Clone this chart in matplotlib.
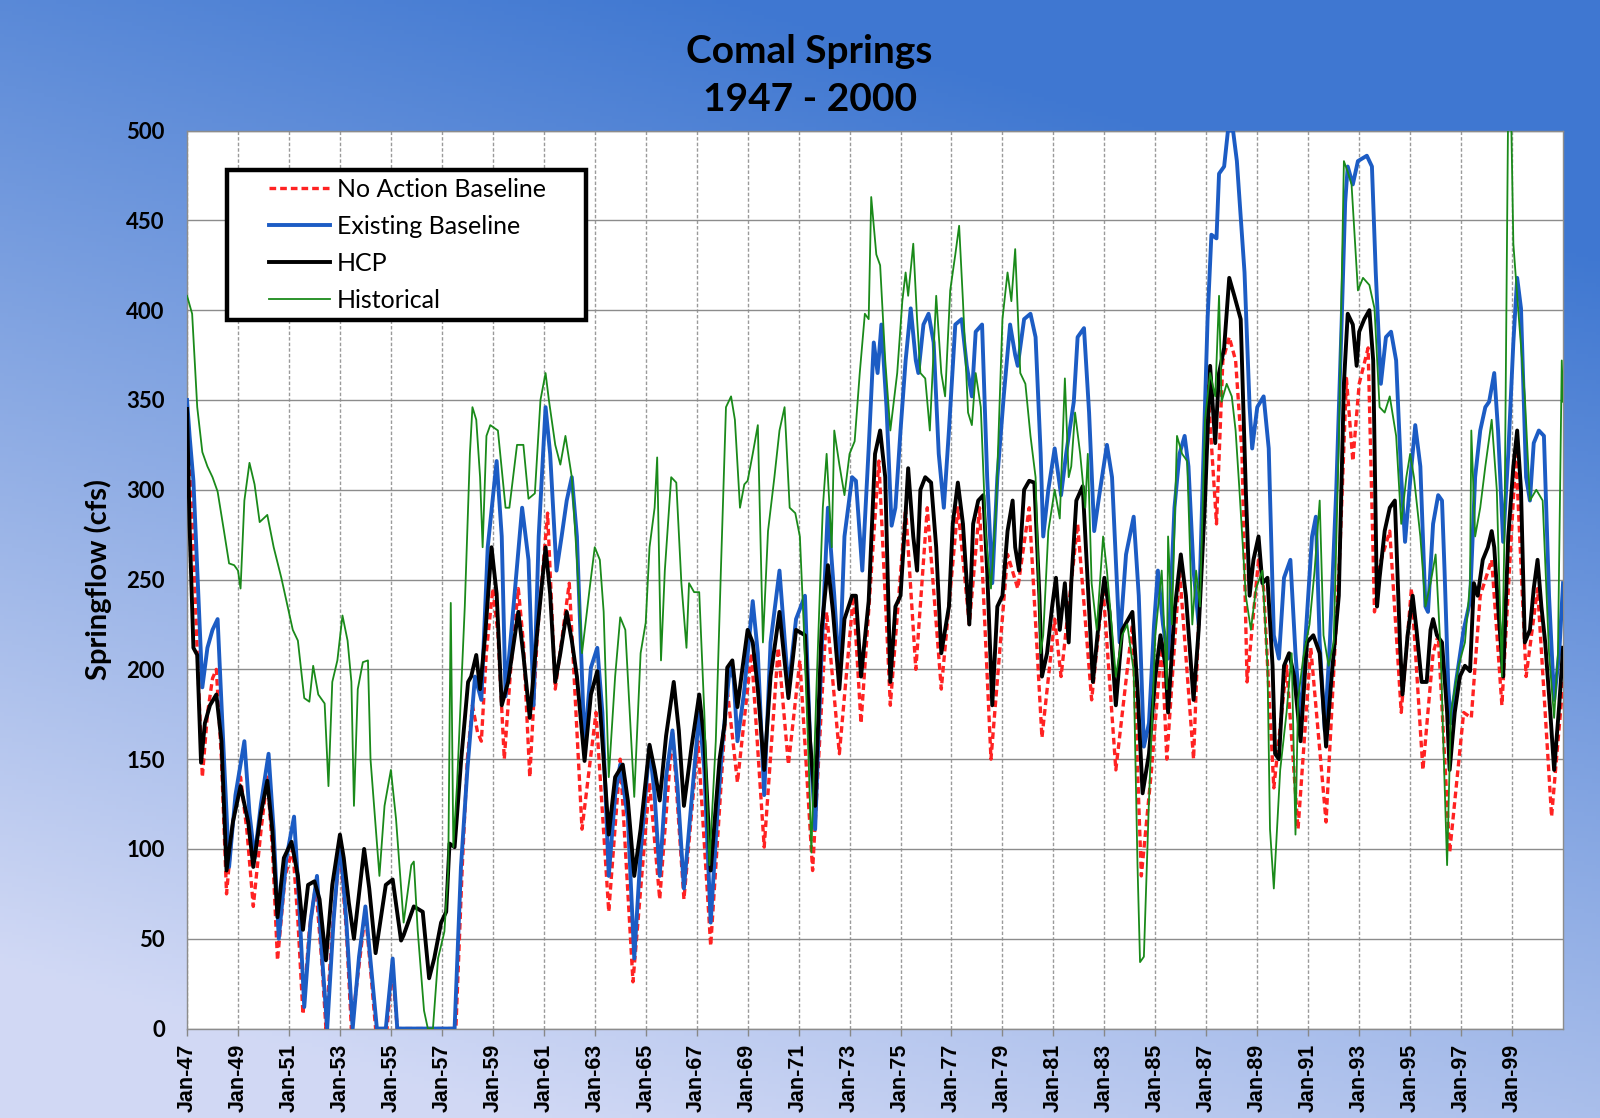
import numpy as np
import matplotlib
matplotlib.use("Agg")
import matplotlib.pyplot as plt
from matplotlib.lines import Line2D
from matplotlib.legend_handler import HandlerLine2D

# ---------------- data (decimal year, cfs) ----------------
noaction_t = [1947.0,1947.2,1947.4,1947.6,1947.8,1948.0,1948.15,1948.35,1948.55,1948.8,1949.1,1949.35,1949.6,1949.9,
              1950.15,1950.35,1950.55,1950.85,1951.15,1951.35,1951.55,1951.8,1952.05,1952.3,1952.45,1952.7,1953.0,1953.25,
              1953.45,1953.75,1954.0,1954.25,1954.4,1954.85,1955.05,1955.25,1957.55,1957.8,1958.0,1958.2,1958.4,1958.55,
              1958.75,1959.0,1959.2,1959.45,1959.7,1960.0,1960.2,1960.45,1960.75,1961.15,1961.45,1962.0,1962.5,1963.05,
              1963.55,1964.0,1964.5,1965.15,1965.55,1966.05,1966.5,1967.05,1967.55,1968.2,1968.6,1969.15,1969.65,1970.2,
              1970.6,1971.05,1971.55,1972.1,1972.6,1973.15,1973.45,1974.15,1974.6,1975.2,1975.6,1976.05,1976.6,1977.25,
              1977.7,1978.1,1978.55,1979.2,1979.6,1980.05,1980.55,1981.05,1981.3,1981.95,1982.5,1982.95,1983.45,1984.1,
              1984.45,1984.85,1985.25,1985.45,1985.95,1986.5,1987.05,1987.4,1987.65,1987.9,1988.15,1988.4,1988.6,1989.05,
              1989.25,1989.65,1990.15,1990.6,1991.1,1991.7,1992.25,1992.5,1992.75,1993.0,1993.35,1993.6,1993.8,1994.2,
              1994.65,1995.05,1995.5,1995.9,1996.1,1996.55,1997.1,1997.4,1997.75,1998.2,1998.6,1999.15,1999.55,2000.0,
              2000.55,2001.0]
noaction_v = [335,290,210,140,175,195,200,150,75,115,140,110,68,110,
              140,100,38,85,100,60,8,55,80,35,0,55,100,55,
              0,35,65,25,0,0,35,0,0,90,150,180,165,160,
              210,245,220,150,200,245,215,140,220,287,189,248,111,176,
              65,150,26,137,72,166,72,160,46,189,137,209,101,212,
              147,205,88,232,153,241,170,316,180,290,200,290,189,290,
              225,290,150,264,245,290,162,228,196,281,183,245,144,225,
              85,144,215,150,255,150,359,281,372,385,372,320,193,261,
              245,134,202,111,212,115,268,362,316,359,379,232,258,277,
              176,245,144,209,219,98,176,173,241,261,180,320,196,245,
              118,193]

existing_t = [1947.0,1947.1,1947.25,1947.45,1947.6,1947.8,1948.0,1948.2,1948.45,1948.65,1948.9,1949.25,1949.45,1949.65,
              1949.9,1950.2,1950.4,1950.6,1950.9,1951.2,1951.4,1951.6,1951.85,1952.1,1952.3,1952.5,1952.75,1953.0,
              1953.25,1953.5,1953.75,1954.0,1954.25,1954.45,1954.8,1955.07,1955.25,1957.5,1957.75,1958.0,1958.3,1958.55,
              1958.8,1959.15,1959.35,1959.5,1959.75,1960.15,1960.4,1960.6,1960.8,1961.07,1961.25,1961.5,1961.7,1961.9,
              1962.1,1962.3,1962.6,1962.85,1963.1,1963.3,1963.55,1963.8,1964.0,1964.3,1964.55,1964.8,1965.15,1965.35,
              1965.55,1965.8,1966.05,1966.25,1966.5,1966.8,1967.1,1967.3,1967.55,1967.8,1968.0,1968.3,1968.45,1968.6,
              1968.85,1969.2,1969.4,1969.65,1969.9,1970.25,1970.6,1970.9,1971.25,1971.45,1971.65,1971.9,1972.15,1972.4,
              1972.6,1972.8,1973.1,1973.25,1973.5,1973.75,1973.95,1974.1,1974.25,1974.45,1974.65,1974.8,1975.0,1975.2,
              1975.4,1975.6,1975.7,1975.9,1976.1,1976.3,1976.5,1976.7,1976.9,1977.15,1977.4,1977.6,1977.8,1977.95,
              1978.2,1978.4,1978.6,1978.8,1979.05,1979.3,1979.5,1979.6,1979.85,1980.1,1980.3,1980.5,1980.6,1980.8,
              1981.05,1981.3,1981.5,1981.8,1981.95,1982.2,1982.4,1982.6,1982.8,1983.1,1983.3,1983.6,1983.85,1984.15,
              1984.35,1984.55,1984.75,1984.95,1985.1,1985.3,1985.5,1985.75,1985.95,1986.15,1986.3,1986.5,1986.7,1986.85,
              1987.05,1987.2,1987.4,1987.5,1987.7,1987.85,1988.05,1988.2,1988.5,1988.7,1988.8,1989.0,1989.25,1989.45,
              1989.65,1989.85,1990.05,1990.3,1990.5,1990.7,1990.9,1991.15,1991.3,1991.45,1991.65,1991.85,1992.1,1992.3,
              1992.45,1992.55,1992.75,1992.95,1993.3,1993.5,1993.65,1993.85,1994.05,1994.25,1994.45,1994.65,1994.8,1995.0,
              1995.2,1995.4,1995.6,1995.7,1995.9,1996.1,1996.25,1996.35,1996.5,1996.6,1996.8,1997.1,1997.35,1997.55,
              1997.75,1997.95,1998.1,1998.3,1998.45,1998.65,1998.85,1999.05,1999.2,1999.35,1999.55,1999.7,1999.85,2000.05,
              2000.25,2000.45,2000.65,2000.85,2001.0]
existing_v = [350,330,305,240,190,212,222,228,150,90,130,160,120,95,
              125,153,110,50,95,118,70,12,60,85,40,0,60,105,
              60,0,40,68,30,0,0,39,0,0,90,144,196,183,
              268,316,274,185,225,290,261,180,274,346,320,255,274,294,
              307,274,157,201,212,176,85,130,147,117,39,98,157,130,
              85,140,166,134,78,127,176,144,59,117,157,201,195,160,
              186,238,209,130,215,255,189,228,241,160,111,209,290,241,
              196,274,307,305,255,323,382,365,392,346,280,290,333,372,
              401,372,365,392,398,382,320,290,333,392,395,369,352,388,
              392,307,248,307,352,392,375,369,395,398,385,320,274,300,
              323,297,320,349,385,390,343,277,297,325,307,215,264,285,
              241,157,170,225,255,225,206,290,320,330,313,255,225,300,
              395,442,440,476,480,500,500,483,421,346,323,346,352,323,
              219,206,251,261,209,170,219,274,285,215,166,215,300,388,
              460,480,470,483,486,480,421,359,385,388,372,307,271,305,
              336,313,235,232,281,297,294,255,189,170,193,222,238,307,
              333,346,349,365,333,271,320,382,418,401,307,294,326,333,
              330,241,183,209,248]

hcp_t = [1947.0,1947.1,1947.25,1947.4,1947.55,1947.7,1947.9,1948.15,1948.35,1948.55,1948.8,1949.1,1949.4,1949.6,
         1949.9,1950.15,1950.35,1950.55,1950.8,1951.1,1951.35,1951.55,1951.75,1952.0,1952.2,1952.45,1952.7,1953.0,
         1953.15,1953.35,1953.55,1953.95,1954.15,1954.4,1954.8,1955.07,1955.4,1955.5,1955.9,1956.25,1956.5,1956.7,
         1956.97,1957.17,1957.3,1957.5,1957.76,1958.03,1958.15,1958.35,1958.5,1958.7,1958.95,1959.15,1959.35,1959.6,
         1960.0,1960.2,1960.45,1960.75,1961.07,1961.25,1961.45,1961.65,1961.9,1962.1,1962.3,1962.6,1962.85,1963.1,
         1963.3,1963.55,1963.8,1964.1,1964.3,1964.55,1964.8,1965.15,1965.35,1965.55,1965.8,1966.1,1966.3,1966.5,
         1966.8,1967.1,1967.3,1967.55,1967.9,1968.1,1968.2,1968.4,1968.6,1968.8,1969.0,1969.2,1969.4,1969.65,
         1969.9,1970.25,1970.6,1970.9,1971.25,1971.45,1971.65,1971.9,1972.15,1972.35,1972.6,1972.8,1973.1,1973.25,
         1973.45,1973.75,1974.0,1974.2,1974.4,1974.6,1974.8,1975.0,1975.2,1975.3,1975.5,1975.65,1975.78,1975.97,
         1976.2,1976.4,1976.6,1976.9,1977.05,1977.25,1977.45,1977.6,1977.7,1977.85,1978.05,1978.25,1978.4,1978.6,
         1978.8,1979.0,1979.2,1979.4,1979.5,1979.65,1979.85,1980.05,1980.25,1980.45,1980.55,1980.75,1980.95,1981.1,
         1981.25,1981.45,1981.6,1981.7,1981.9,1982.15,1982.35,1982.55,1982.75,1983.0,1983.2,1983.45,1983.7,1984.1,
         1984.3,1984.5,1984.75,1985.0,1985.2,1985.4,1985.5,1985.75,1986.0,1986.2,1986.5,1986.7,1986.95,1987.15,
         1987.35,1987.5,1987.7,1987.9,1988.1,1988.35,1988.55,1988.7,1988.85,1989.05,1989.2,1989.4,1989.6,1989.7,
         1989.85,1990.05,1990.25,1990.45,1990.7,1990.95,1991.2,1991.45,1991.7,1991.9,1992.2,1992.4,1992.55,1992.75,
         1992.9,1993.0,1993.2,1993.4,1993.55,1993.7,1993.8,1994.0,1994.2,1994.4,1994.6,1994.7,1994.9,1995.1,
         1995.25,1995.45,1995.65,1995.8,1995.9,1996.05,1996.25,1996.45,1996.55,1996.75,1996.95,1997.15,1997.35,1997.5,
         1997.65,1997.85,1998.05,1998.2,1998.3,1998.45,1998.65,1998.85,1999.05,1999.2,1999.35,1999.5,1999.7,1999.85,
         2000.0,2000.15,2000.3,2000.5,2000.65,2000.85,2001.0]
hcp_v = [345,280,212,208,148,170,180,186,160,88,115,135,115,90,
         120,138,110,62,95,104,85,55,80,82,72,38,80,108,
         95,70,50,100,78,42,80,83,49,52,68,65,28,39,
         59,65,103,101,150,193,196,208,189,219,268,242,180,193,
         232,208,173,222,268,242,193,209,232,216,196,149,186,199,
         160,108,140,147,127,85,111,158,144,127,163,193,166,124,
         157,186,160,88,150,170,201,205,179,201,222,215,189,144,
         196,232,184,222,219,160,124,222,258,232,189,228,241,241,
         196,238,320,333,307,193,235,241,287,312,274,255,300,307,
         304,268,209,235,281,304,281,248,225,281,294,297,255,180,
         235,241,277,294,268,255,300,305,304,241,196,209,235,251,
         222,248,215,248,294,302,248,193,222,251,232,180,222,232,
         189,131,153,196,219,202,176,232,264,241,183,222,294,369,
         326,365,379,418,408,395,300,241,261,274,248,251,202,153,
         150,202,209,196,160,215,219,209,157,193,241,359,398,392,
         369,388,395,400,372,235,251,277,290,294,215,186,219,241,
         222,193,193,222,228,219,215,176,144,176,196,202,199,248,
         241,261,268,277,268,235,196,274,313,333,300,215,222,245,
         261,235,215,176,144,180,212]

historical_t = [1947.0,1947.2,1947.4,1947.6,1947.8,1948.0,1948.2,1948.45,1948.65,1948.85,1949.0,1949.1,1949.25,1949.45,
                1949.65,1949.85,1950.15,1950.4,1950.7,1950.95,1951.15,1951.35,1951.6,1951.8,1951.95,1952.15,1952.4,1952.55,
                1952.7,1952.9,1953.1,1953.3,1953.45,1953.55,1953.7,1953.9,1954.1,1954.2,1954.55,1954.75,1955.0,1955.2,
                1955.5,1955.8,1955.9,1956.05,1956.3,1956.45,1956.65,1956.85,1957.1,1957.25,1957.35,1957.45,1957.6,1957.9,
                1958.1,1958.2,1958.35,1958.5,1958.6,1958.75,1958.9,1959.2,1959.5,1959.65,1959.95,1960.2,1960.4,1960.65,
                1960.87,1961.07,1961.2,1961.45,1961.65,1961.85,1962.1,1962.3,1962.5,1962.8,1963.0,1963.2,1963.35,1963.55,
                1963.8,1964.0,1964.2,1964.55,1964.8,1965.0,1965.15,1965.35,1965.45,1965.6,1965.75,1966.0,1966.2,1966.4,
                1966.6,1966.7,1966.9,1967.1,1967.3,1967.5,1967.75,1967.95,1968.15,1968.35,1968.5,1968.7,1968.87,1969.0,
                1969.2,1969.4,1969.6,1969.8,1970.05,1970.25,1970.45,1970.65,1970.87,1971.05,1971.2,1971.4,1971.5,1971.7,
                1971.95,1972.1,1972.3,1972.4,1972.6,1972.8,1973.0,1973.2,1973.4,1973.6,1973.75,1973.85,1974.05,1974.2,
                1974.4,1974.6,1974.87,1975.07,1975.2,1975.3,1975.5,1975.65,1975.78,1975.97,1976.15,1976.4,1976.6,1976.75,
                1976.95,1977.15,1977.3,1977.45,1977.65,1977.8,1977.95,1978.15,1978.35,1978.55,1978.75,1979.0,1979.2,1979.35,
                1979.5,1979.7,1979.9,1980.1,1980.3,1980.5,1980.6,1980.8,1981.05,1981.25,1981.45,1981.6,1981.7,1981.85,
                1982.05,1982.25,1982.35,1982.5,1982.7,1982.95,1983.1,1983.3,1983.45,1983.7,1983.9,1984.15,1984.3,1984.4,
                1984.55,1984.75,1985.0,1985.25,1985.45,1985.5,1985.65,1985.85,1986.05,1986.25,1986.45,1986.6,1986.75,1986.95,
                1987.15,1987.35,1987.5,1987.6,1987.8,1988.0,1988.15,1988.3,1988.55,1988.75,1988.95,1989.2,1989.4,1989.5,
                1989.65,1989.9,1990.15,1990.35,1990.5,1990.6,1990.8,1991.05,1991.25,1991.45,1991.6,1991.8,1992.0,1992.2,
                1992.4,1992.55,1992.7,1992.95,1993.15,1993.4,1993.6,1993.8,1994.0,1994.2,1994.45,1994.65,1994.85,1995.0,
                1995.15,1995.4,1995.6,1995.8,1996.0,1996.2,1996.3,1996.45,1996.6,1996.9,1997.15,1997.35,1997.4,1997.55,
                1997.75,1997.95,1998.2,1998.4,1998.6,1998.7,1998.85,1998.95,1999.05,1999.2,1999.5,1999.7,1999.95,2000.2,
                2000.45,2000.65,2000.8,2000.95,2001.0]
historical_v = [408,398,346,321,313,307,299,277,259,258,255,245,294,315,
                303,282,286,268,251,235,222,216,184,182,202,186,181,135,
                193,205,230,216,193,124,189,204,205,150,85,124,144,117,
                59,91,93,55,10,0,0,39,54,88,237,101,137,235,
                320,346,339,307,268,330,336,333,290,290,325,325,295,298,
                350,365,350,325,314,330,307,261,209,245,268,261,232,140,
                196,229,222,129,209,226,268,290,318,205,255,307,304,248,
                212,248,243,243,176,91,160,255,346,352,339,290,303,305,
                320,336,215,277,307,333,346,290,287,274,225,147,98,189,
                290,320,268,333,314,297,320,327,365,398,395,463,431,425,
                372,333,365,405,421,408,437,395,365,362,333,408,365,352,
                411,431,447,405,343,336,365,346,274,245,290,395,421,405,
                434,365,359,330,307,209,219,277,300,284,362,307,313,343,
                320,290,320,248,222,274,255,222,196,219,225,199,91,37,
                40,127,219,255,189,274,225,330,320,316,225,255,235,339,
                365,352,408,349,359,352,333,300,241,222,245,255,202,111,
                78,144,176,209,108,183,206,225,255,294,219,202,215,326,
                483,477,470,411,418,414,401,346,343,352,330,281,307,320,
                307,274,235,248,264,209,160,91,176,202,215,248,333,274,
                290,313,339,300,196,274,520,520,437,408,352,294,300,294,
                209,173,209,372,349]

series_names = ["No Action Baseline", "Existing Baseline", "HCP", "Historical"]
tick_years = list(range(1947, 2000, 2))
tick_labels = ["Jan-%02d" % (y % 100) for y in tick_years]
y_ticks = list(range(0, 501, 50))


class OffsetLineHandler(HandlerLine2D):
    """Draw the legend line only on the right part of the handle box."""
    def __init__(self, frac=0.38, **kw):
        super().__init__(**kw)
        self.frac = frac

    def create_artists(self, legend, orig_handle, xdescent, ydescent,
                       width, height, fontsize, trans):
        arts = super().create_artists(legend, orig_handle, xdescent, ydescent,
                                      width, height, fontsize, trans)
        for a in arts:
            xd = np.asarray(a.get_xdata(), dtype=float)
            if xd.size >= 2:
                x0, x1 = xd.min(), xd.max()
                a.set_xdata(np.linspace(x0 + (x1 - x0) * self.frac, x1, xd.size))
        return arts


# ---------------- figure ----------------
fig = plt.figure(figsize=(16, 11.18), dpi=100)

# background gradient
bg = fig.add_axes([0, 0, 1, 1], zorder=-10)
h, w = 300, 400
vv = np.linspace(0, 1, h)[:, None]
uu = np.linspace(0, 1, w)[None, :]
s = np.clip(0.95 * vv + 0.40 * (1 - uu) - 0.22, 0, 1)
top = np.array([0.25, 0.47, 0.82])
bot = np.array([0.82, 0.85, 0.96])
img = top[None, None, :] + (bot - top)[None, None, :] * s[:, :, None]
bg.imshow(img, aspect="auto", extent=[0, 1, 0, 1], origin="upper")
bg.axis("off")

ax = fig.add_axes([0.1169, 0.080, 0.8600, 0.8032], zorder=1)
ax.set_facecolor("white")

ax.plot(noaction_t, noaction_v, color="#ff2222", lw=2.4, dashes=(2.0, 1.2),
        label=series_names[0], zorder=3)
ax.plot(existing_t, existing_v, color="#1c5cc4", lw=2.8, label=series_names[1], zorder=4)
ax.plot(hcp_t, hcp_v, color="black", lw=2.8, label=series_names[2], zorder=5)
ax.plot(historical_t, historical_v, color="#1a8a1a", lw=1.3, label=series_names[3], zorder=6)

ax.set_xlim(1947, 2001)
ax.set_ylim(0, 500)
ax.set_xticks(tick_years)
ax.set_xticklabels(tick_labels, rotation=90, fontfamily="Liberation Sans",
                   fontweight="bold", fontsize=15.5)
ax.set_yticks(y_ticks)
ax.set_yticklabels([str(v) for v in y_ticks], fontfamily="Lato",
                   fontweight="bold", fontsize=16)
ax.tick_params(axis="y", length=0, pad=16)
ax.tick_params(axis="x", length=5, width=1, color="#888888", pad=6, direction="out")

ax.grid(axis="y", color="#8c8c8c", lw=1.0, ls="-", zorder=0)
ax.grid(axis="x", color="#9a9a9a", lw=1.0, ls=(0, (2.5, 1.5)), zorder=0)
ax.set_axisbelow(True)
for sp in ax.spines.values():
    sp.set_color("#8c8c8c")
    sp.set_linewidth(1.0)

ax.set_ylabel("Springflow (cfs)", fontfamily="Lato", fontweight="bold", fontsize=21)
ax.yaxis.set_label_coords(-0.0545, 0.5)

handles, labels = ax.get_legend_handles_labels()
leg = ax.legend(handles, labels, loc="upper left",
                bbox_to_anchor=(0.0287, 0.789, 0.261, 0.167), mode="expand",
                borderaxespad=0, prop={"family": "Lato", "size": 18},
                handlelength=3.8, handletextpad=0.28, labelspacing=0.56,
                borderpad=0.32, fancybox=False, framealpha=1, edgecolor="black",
                handler_map={Line2D: OffsetLineHandler(frac=0.36)})
leg.get_frame().set_linewidth(3.2)

fig.text(0.506, 0.954, "Comal Springs", ha="center", va="center",
         fontfamily="Lato", fontweight="bold", fontsize=28)
fig.text(0.506, 0.911, "1947 - 2000", ha="center", va="center",
         fontfamily="Lato", fontweight="bold", fontsize=28)

fig.savefig("out.png", dpi=100)
